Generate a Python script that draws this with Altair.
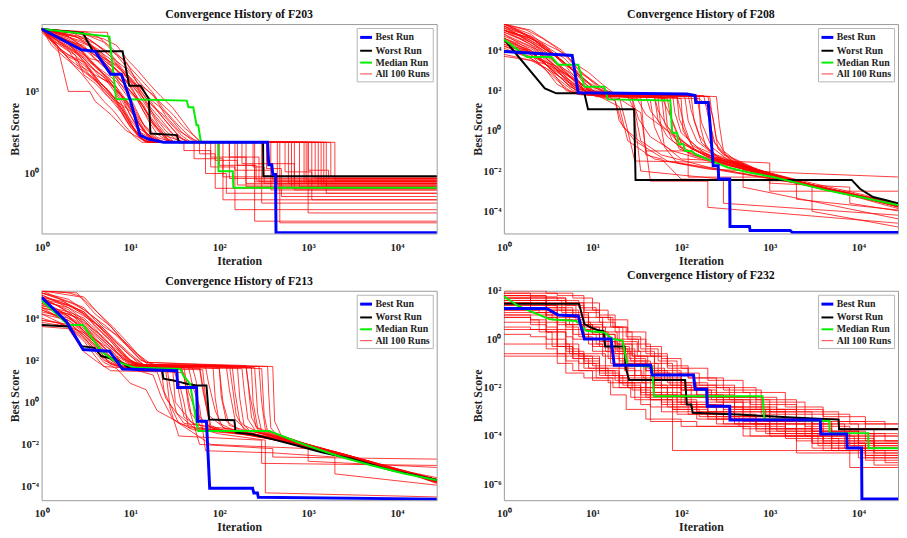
import altair as alt
import pandas as pd

ITER_MAX = 28000
SERIES = ["Best Run", "Worst Run", "Median Run", "All 100 Runs"]
COLORS = ["#0000ff", "#000000", "#00ee00", "#ff0000"]
WIDTHS = [3.0, 2.0, 2.0, 0.9]
OPACITY = [1.0, 1.0, 1.0, 0.85]
X_TICKS = [1, 10, 100, 1000, 10000]

# ---------------- F203 (iteration, log10 best score) ----------------
F203_BEST = [(1, 8.8), (2.8, 7.54), (4, 7.44), (6, 6.04), (7.9, 6.04), (10, 4.44), (12.8, 2.34), (16, 2.1),
             (23.7, 1.9), (350, 1.9), (360, 0.54), (390, 0.54), (400, -0.06), (430, -0.06), (435, -3.6), (30000, -3.6)]
F203_WORST = [(1, 8.8), (2.93, 8.54), (3.78, 7.44), (8.15, 7.44), (9.7, 5.34), (13, 5.34), (16.1, 4.54), (16.8, 2.44),
              (33.3, 2.34), (35.4, 1.9), (311, 1.9), (313, -0.16), (30000, -0.16)]
F203_MEDIAN = [(1, 8.8), (5.8, 8.34), (6.9, 4.54), (43, 4.44), (45, 4.04), (51, 4.04), (55.5, 2.94), (58, 2.94),
               (61.5, 2.04), (64, 1.9), (97, 1.9), (98, 0.14), (142, 0.14), (144, -0.86), (30000, -0.86)]
F203_RUNS = [
    [(1, 8.8), (2, 8.0), (3, 7.6), (5, 6.5), (7, 5.8), (10, 4.6), (14, 3.0), (20, 2.2), (30, 1.9), (150, 1.9), (150, 0.2), (400, 0.2), (400, -0.4), (30000, -0.4)],
    [(1, 8.75), (1.6, 7.6), (2, 7.2), (3, 6.8), (4, 6.0), (6, 5.5), (9, 4.0), (12, 2.8), (18, 2.2), (25, 1.9), (600, 1.9), (600, -0.6), (30000, -0.6)],
    [(1, 8.8), (1.5, 7.8), (2, 5.0), (3.5, 5.0), (4, 4.4), (6, 3.6), (9, 2.6), (15, 1.95), (80, 1.9), (80, 1.0), (200, 1.0), (200, -0.8), (30000, -0.8)],
    [(1, 8.8), (4, 8.6), (5.5, 8.6), (6, 7.5), (9, 6.8), (12, 5.5), (18, 4.8), (25, 3.5), (35, 2.6), (50, 2.1), (60, 1.9), (1200, 1.9), (1200, -0.3), (30000, -0.3)],
    [(1, 8.8), (2.5, 7.8), (3.5, 7.0), (5, 6.8), (7, 6.0), (10, 5.0), (14, 4.2), (18, 3.0), (25, 2.3), (40, 1.9), (300, 1.9), (300, -1.8), (30000, -1.8)],
    [(1, 8.7), (2, 7.9), (3, 7.0), (4, 6.3), (6, 5.5), (8, 4.7), (10, 3.5), (13, 2.5), (20, 1.95), (100, 1.9), (100, 0.5), (250, 0.5), (250, -2.9), (30000, -2.9)],
    [(1, 8.8), (3, 8.2), (4.5, 7.2), (6, 6.8), (9, 6.0), (12, 5.2), (16, 4.0), (22, 3.1), (30, 2.4), (45, 1.9), (900, 1.9), (900, -0.5), (30000, -0.5)],
    [(1, 8.8), (1.8, 8.2), (2.5, 7.3), (3.5, 6.5), (5, 5.9), (7, 4.8), (9, 3.7), (11, 2.7), (14, 2.0), (18, 1.9), (70, 1.9), (70, 0.0), (120, 0.0), (120, -1.2), (30000, -1.2)],
    [(1, 8.8), (3, 8.5), (5, 8.0), (7, 7.2), (10, 6.2), (14, 5.3), (20, 4.5), (30, 3.6), (40, 2.8), (55, 2.2), (62, 1.9), (1800, 1.9), (1800, -0.2), (30000, -0.2)],
    [(1, 8.8), (2, 7.5), (2.6, 6.6), (3.5, 6.2), (5, 5.0), (7, 4.2), (9, 3.2), (12, 2.3), (16, 1.9), (450, 1.9), (450, -0.7), (30000, -0.7)],
    [(1, 8.8), (2.2, 8.0), (3, 7.8), (4, 7.0), (6, 6.2), (8, 5.6), (11, 4.8), (14, 3.8), (19, 2.8), (26, 2.0), (30, 1.9), (180, 1.9), (180, 0.6), (700, 0.6), (700, -1.0), (30000, -1.0)],
    [(1, 8.6), (1.7, 7.5), (2.5, 6.9), (3.5, 6.0), (5, 5.3), (7, 4.4), (10, 3.8), (13, 2.9), (17, 2.2), (22, 1.9), (1000, 1.9), (1000, -2.4), (30000, -2.4)],
    [(1, 8.8), (2.8, 8.5), (4, 7.9), (6, 7.3), (8, 6.4), (11, 5.6), (15, 4.6), (20, 3.8), (28, 2.9), (36, 2.2), (45, 1.9), (130, 1.9), (130, -0.3), (30000, -0.3)],
    [(1, 8.8), (1.5, 8.1), (2.2, 7.4), (3, 6.7), (4.5, 5.6), (6, 4.9), (8, 4.1), (10, 3.0), (13, 2.1), (17, 1.9), (60, 1.9), (60, 1.2), (90, 1.2), (90, -0.9), (30000, -0.9)],
    [(1, 8.8), (2, 8.3), (3, 7.9), (4, 7.6), (5, 6.9), (7, 6.3), (10, 5.7), (13, 5.2), (17, 4.5), (23, 3.9), (30, 3.2), (38, 2.5), (50, 2.0), (55, 1.9), (250, 1.9), (250, -0.5), (30000, -0.5)],
    [(1, 8.75), (2, 7.7), (3, 7.1), (4, 6.5), (5.5, 5.8), (7, 5.0), (9, 4.3), (12, 3.4), (15, 2.5), (20, 1.9), (1500, 1.9), (1500, -0.6), (30000, -0.6)],
    [(1, 8.8), (1.9, 8.4), (2.9, 7.7), (4, 7.2), (5.5, 6.6), (7.5, 5.5), (10, 4.9), (13, 4.3), (16, 3.5), (21, 2.6), (27, 2.0), (33, 1.9), (340, 1.9), (340, 0.3), (500, 0.3), (500, -1.4), (30000, -1.4)],
    [(1, 8.8), (2.4, 7.9), (3.4, 7.5), (4.6, 6.9), (6.5, 6.1), (9, 5.3), (12, 4.5), (16, 3.2), (20, 2.4), (28, 1.9), (800, 1.9), (800, -0.8), (30000, -0.8)],
    [(1, 8.8), (1.4, 7.9), (2, 7.0), (2.8, 6.4), (4, 5.7), (5.5, 4.9), (7, 4.3), (9, 3.3), (12, 2.4), (15, 1.9), (40, 1.9), (40, 1.4), (80, 1.4), (80, 0.4), (150, 0.4), (150, -2.2), (30000, -2.2)],
    [(1, 8.8), (3.5, 8.4), (5, 8.2), (7, 7.8), (9, 7.0), (12, 6.3), (16, 5.5), (22, 4.7), (30, 4.0), (40, 3.1), (50, 2.4), (60, 1.95), (70, 1.9), (2000, 1.9), (2000, -0.4), (30000, -0.4)],
    [(1, 8.8), (2, 8.2), (2.6, 7.8), (3.5, 6.8), (5, 6.2), (7, 5.6), (9.5, 4.6), (12, 3.6), (15, 2.7), (19, 2.1), (24, 1.9), (200, 1.9), (200, -0.6), (30000, -0.6)],
    [(1, 8.8), (1.8, 8.5), (2.5, 8.0), (3.5, 7.4), (5, 6.9), (7, 6.3), (9, 5.6), (12, 4.6), (16, 3.6), (21, 2.8), (26, 2.1), (32, 1.9), (550, 1.9), (550, 0.1), (1100, 0.1), (1100, -1.6), (30000, -1.6)],
    [(1, 8.7), (2.1, 7.6), (3, 7.0), (4.5, 5.9), (6, 5.4), (8.5, 4.6), (11, 3.8), (14, 3.0), (18, 2.3), (23, 1.9), (110, 1.9), (110, -0.2), (30000, -0.2)],
    [(1, 8.8), (2.7, 8.1), (3.8, 7.7), (5, 7.0), (7, 6.6), (9, 5.9), (12, 5.1), (15, 4.4), (19, 3.4), (25, 2.6), (32, 2.1), (40, 1.9), (380, 1.9), (380, -1.0), (30000, -1.0)],
    [(1, 8.8), (1.6, 7.8), (2.4, 7.2), (3, 6.0), (4, 5.5), (6, 4.5), (8, 3.7), (10, 2.8), (13, 2.2), (16, 1.9), (90, 1.9), (90, 0.8), (160, 0.8), (160, -0.7), (30000, -0.7)],
    [(1, 8.8), (2.3, 8.4), (3.2, 8.0), (4.5, 7.5), (6, 6.7), (8, 6.0), (10, 5.4), (13, 4.8), (17, 4.0), (22, 3.3), (28, 2.6), (35, 2.0), (42, 1.9), (1300, 1.9), (1300, -0.9), (30000, -0.9)],
    [(1, 8.8), (1.3, 8.2), (1.8, 7.3), (2.3, 6.6), (3, 6.2), (4.5, 5.4), (6, 4.7), (8, 3.9), (10, 3.0), (13, 2.3), (17, 1.9), (480, 1.9), (480, -3.0), (30000, -3.0)],
    [(1, 8.8), (3, 8.3), (4, 7.6), (5.5, 7.1), (7.5, 6.5), (10, 5.8), (13, 5.0), (17, 4.2), (23, 3.6), (30, 2.9), (38, 2.3), (48, 1.9), (160, 1.9), (160, 0.5), (260, 0.5), (260, -0.4), (30000, -0.4)],
    [(1, 8.8), (1.5, 7.6), (2, 7.1), (2.7, 6.8), (3.6, 6.2), (5, 5.3), (7, 4.4), (9, 3.6), (12, 2.7), (16, 2.0), (20, 1.9), (700, 1.9), (700, -0.5), (30000, -0.5)],
    [(1, 8.8), (2, 8.1), (3, 7.3), (4, 6.6), (5, 6.0), (7, 5.1), (9, 4.4), (11, 3.5), (14, 2.6), (19, 2.0), (22, 1.9), (1600, 1.9), (1600, -1.2), (30000, -1.2)],
    [(1, 8.8), (1.7, 8.0), (2.3, 7.6), (3.2, 7.1), (4.2, 6.4), (5.8, 5.8), (7.6, 5.0), (9.8, 4.2), (12.5, 3.1), (15.5, 2.3), (19, 1.95), (26, 1.9), (1000, 1.9), (1000, 0.2), (1700, 0.2), (1700, -0.3), (30000, -0.3)],
    [(1, 8.8), (2.6, 8.6), (3.6, 8.1), (4.8, 7.6), (6.3, 7.0), (8.2, 6.2), (10.5, 5.4), (13.5, 4.5), (17, 3.7), (21, 2.9), (26, 2.3), (31, 1.9), (650, 1.9), (650, -0.9), (30000, -0.9)],
    [(1, 8.8), (1.4, 8.0), (1.9, 7.7), (2.6, 7.2), (3.3, 6.5), (4.3, 5.6), (5.6, 5.1), (7.2, 4.3), (9.2, 3.4), (11.5, 2.6), (14, 2.0), (17, 1.9), (240, 1.9), (240, 0.4), (320, 0.4), (320, -0.6), (30000, -0.6)],
    [(1, 8.8), (2.2, 8.6), (3, 8.2), (4, 7.9), (5.2, 7.4), (6.8, 6.9), (8.8, 6.4), (11, 5.8), (14, 5.0), (18, 4.2), (24, 3.3), (31, 2.6), (39, 2.1), (47, 1.9), (1400, 1.9), (1400, -0.7), (30000, -0.7)],
    [(1, 8.8), (1.6, 8.3), (2.1, 7.8), (2.9, 7.3), (3.9, 6.7), (5.1, 6.0), (6.7, 5.4), (8.6, 4.4), (11, 3.5), (14, 2.6), (18, 2.0), (21, 1.9), (130, 1.9), (130, 1.0), (280, 1.0), (280, -0.5), (30000, -0.5)],
    [(1, 8.8), (2.5, 8.3), (3.4, 7.8), (4.6, 7.3), (6.1, 6.6), (8, 5.9), (10.4, 5.2), (13.4, 4.2), (17, 3.3), (22, 2.5), (28, 2.0), (34, 1.9), (950, 1.9), (950, -0.4), (30000, -0.4)],
    [(1, 8.8), (1.3, 7.8), (1.7, 7.2), (2.2, 6.7), (2.9, 6.0), (3.8, 5.2), (5, 4.4), (6.5, 3.8), (8.4, 3.0), (10.8, 2.3), (13.5, 1.9), (52, 1.9), (52, 0.9), (110, 0.9), (110, -1.6), (30000, -1.6)],
    [(1, 8.8), (3.2, 8.6), (4.4, 8.3), (6, 7.7), (8, 7.0), (10.5, 6.3), (13.8, 5.6), (18, 4.9), (23, 4.0), (30, 3.3), (38, 2.7), (48, 2.2), (57, 1.9), (1100, 1.9), (1100, -0.2), (30000, -0.2)],
]

# ---------------- F208 ----------------
F208_BEST = [(1, 3.94), (5.9, 3.74), (6.9, 1.89), (116, 1.83), (144, 1.75), (146, 1.4), (202, 1.4), (210, 0.55), (230, -1.74),
             (262, -1.74), (265, -2.39), (353, -2.39), (356, -4.75), (590, -4.75), (600, -4.95), (1700, -4.95), (1800, -5.05), (30000, -5.05)]
F208_WORST = [(1, 4.55), (2.9, 2.1), (3.9, 1.86), (8.1, 1.86), (8.9, 1.07), (29.5, 1.07), (30.6, -2.44), (8400, -2.44),
              (10400, -2.88), (14650, -3.29), (20650, -3.45), (30000, -3.65)]
F208_MEDIAN = [(1, 4.55), (1.47, 3.98), (1.82, 3.66), (3.46, 3.66), (4.1, 3.28), (6.9, 3.28), (8.1, 2.19), (13.6, 2.19), (14.9, 1.56),
               (75.5, 1.5), (79, -0.1), (90, -0.1), (93.5, -0.67), (106, -0.67), (111, -1.0), (132, -1.0), (144, -1.16), (240, -1.57),
               (338, -1.82), (565, -2.06), (1122, -2.31), (1876, -2.55), (4416, -2.96), (10420, -3.29), (30000, -3.72)]
F208_RUNS = [
    [(1, 5.0), (2, 4.3), (3, 3.6), (5, 2.8), (8, 2.1), (12, 1.8), (60, 1.7), (80, 0.5), (100, -0.6), (200, -1.3), (500, -1.9), (2000, -2.6), (8000, -3.2), (30000, -3.75)],
    [(1, 4.6), (1.5, 4.2), (2.5, 3.8), (4, 3.0), (6, 2.2), (9, 1.9), (30, 1.8), (40, 0.8), (70, 0.0), (150, -1.0), (400, -1.7), (1500, -2.4), (6000, -3.0), (30000, -3.8)],
    [(1, 5.3), (2, 4.8), (3, 4.2), (4.5, 3.4), (7, 2.8), (10, 2.2), (15, 1.8), (150, 1.7), (170, 0.4), (220, -0.8), (350, -1.5), (1000, -2.2), (4000, -2.9), (30000, -3.7)],
    [(1, 4.2), (2, 3.9), (3, 3.4), (5, 2.6), (7, 1.9), (12, 1.7), (20, 1.2), (25, -0.5), (50, -1.4), (200, -1.9), (2000, -2.1), (30000, -2.3)],
    [(1, 5.1), (1.8, 4.6), (3, 4.0), (4, 3.7), (6, 3.0), (9, 2.4), (14, 1.9), (25, 1.75), (90, 1.7), (110, 0.2), (130, -0.7), (250, -1.4), (700, -2.0), (3000, -2.7), (12000, -3.3), (30000, -3.7)],
    [(1, 4.8), (2, 4.0), (3, 3.3), (4, 2.6), (6, 2.0), (8, 1.8), (40, 1.75), (45, 1.0), (60, 0.3), (90, -0.5), (200, -1.3), (800, -2.0), (3000, -2.6), (12000, -3.2), (30000, -3.8)],
    [(1, 3.8), (2, 3.5), (3, 3.1), (5, 2.5), (8, 2.0), (11, 1.7), (20, 1.6), (35, 0.9), (40, -1.0), (120, -1.0), (120, -2.3), (1000, -2.3), (1000, -3.0), (30000, -3.0)],
    [(1, 5.2), (2, 4.7), (3, 4.3), (5, 3.8), (7, 3.0), (10, 2.5), (14, 2.0), (20, 1.8), (200, 1.7), (230, 0.6), (260, -0.9), (400, -1.6), (1200, -2.3), (5000, -3.0), (30000, -3.75)],
    [(1, 4.4), (1.7, 4.0), (2.5, 3.5), (4, 2.9), (6, 2.4), (9, 1.9), (15, 1.8), (70, 1.6), (75, 0.8), (90, -0.2), (130, -0.9), (300, -1.6), (1000, -2.2), (4000, -2.85), (15000, -3.4), (30000, -3.8)],
    [(1, 5.0), (2, 4.5), (4, 3.7), (6, 3.0), (8, 2.0), (12, 1.8), (28, 1.75), (30, 0.5), (35, -2.0), (100, -2.2), (300, -2.4), (300, -3.6), (30000, -4.2)],
    [(1, 4.0), (2, 3.7), (3, 3.4), (4, 3.2), (6, 2.6), (8, 2.0), (10, 1.8), (50, 1.7), (55, 1.0), (70, 0.2), (100, -0.5), (180, -1.2), (500, -1.8), (2000, -2.5), (10000, -3.2), (30000, -3.65)],
    [(1, 5.3), (2, 5.0), (3, 4.5), (4.5, 4.0), (6, 3.4), (9, 2.9), (13, 2.3), (17, 1.9), (120, 1.8), (130, 1.0), (160, -0.2), (220, -1.1), (500, -1.7), (1500, -2.4), (6000, -3.0), (30000, -3.8)],
    [(1, 4.5), (2, 3.9), (3, 3.3), (5, 2.4), (7, 1.9), (14, 1.8), (18, 1.5), (22, 0.2), (40, -0.8), (45, -2.5), (200, -2.5), (200, -3.8), (30000, -4.6)],
    [(1, 4.9), (2, 4.4), (3, 3.9), (4, 3.3), (6, 2.6), (9, 2.1), (13, 1.8), (30, 1.75), (100, 1.6), (105, 0.0), (140, -0.9), (300, -1.5), (900, -2.1), (3000, -2.7), (12000, -3.3), (30000, -3.75)],
    [(1, 4.7), (1.5, 4.4), (2.5, 4.0), (3.5, 3.5), (5, 2.9), (7, 2.2), (10, 1.9), (15, 1.7), (160, 1.6), (200, 1.2), (230, -0.5), (300, -1.2), (700, -1.9), (2500, -2.6), (10000, -3.2), (30000, -3.7)],
    [(1, 5.2), (2, 4.4), (3, 3.8), (5, 3.0), (7, 2.4), (10, 1.9), (20, 1.7), (45, 1.5), (50, 0.2), (60, -0.6), (100, -1.4), (1000, -1.6), (1000, -2.6), (8000, -2.8), (8000, -3.6), (30000, -4.0)],
    [(1, 4.3), (2, 3.8), (3, 3.0), (4, 2.3), (6, 1.9), (10, 1.75), (25, 1.7), (30, 1.0), (35, -0.5), (60, -1.2), (200, -1.8), (600, -2.2), (2000, -2.6), (8000, -3.2), (30000, -3.9)],
    [(1, 5.0), (1.5, 4.7), (2.2, 4.3), (3, 3.9), (4, 3.3), (6, 2.8), (8, 2.2), (11, 1.9), (80, 1.8), (85, 0.9), (100, -0.1), (150, -0.8), (300, -1.4), (1000, -2.1), (5000, -2.95), (30000, -3.7)],
    [(1, 4.6), (2, 4.1), (3, 3.6), (4, 3.0), (5, 2.5), (7, 2.0), (9, 1.8), (20, 1.7), (25, 0.0), (30, -1.5), (500, -1.6), (500, -2.8), (30000, -4.4)],
    [(1, 5.3), (1.6, 4.9), (2.5, 4.4), (3.5, 3.9), (5, 3.3), (7, 2.7), (10, 2.2), (14, 1.9), (40, 1.8), (250, 1.7), (270, 0.3), (300, -1.0), (450, -1.6), (1500, -2.4), (6000, -3.0), (30000, -3.75)],
    [(1, 4.1), (2, 3.6), (3, 3.1), (4, 2.6), (5, 2.0), (7, 1.8), (15, 1.7), (90, 1.65), (95, 0.6), (120, -0.4), (180, -1.1), (500, -1.8), (2000, -2.5), (9000, -3.2), (30000, -3.8)],
    [(1, 4.8), (2, 4.2), (3, 3.6), (4, 3.1), (6, 2.6), (8, 2.0), (12, 1.8), (35, 1.7), (40, -1.2), (60, -1.4), (100, -2.4), (2000, -2.5), (2000, -3.4), (30000, -3.95)],
    [(1, 5.1), (2, 4.7), (3, 4.0), (4.5, 3.5), (6, 3.0), (8, 2.6), (11, 2.0), (16, 1.8), (60, 1.75), (65, 0.4), (80, -0.5), (130, -1.2), (400, -1.8), (1500, -2.4), (6000, -3.0), (20000, -3.5), (30000, -3.65)],
    [(1, 4.5), (2, 4.0), (2.5, 3.6), (3.5, 3.0), (5, 2.4), (7, 1.9), (12, 1.8), (130, 1.7), (140, 0.5), (170, -0.6), (260, -1.3), (700, -1.9), (2500, -2.6), (10000, -3.25), (30000, -3.75)],
    [(1, 3.7), (2, 3.5), (3, 3.3), (5, 2.8), (8, 2.2), (12, 1.7), (18, 1.5), (20, 0.5), (30, -0.5), (70, -1.5), (350, -2.0), (3000, -2.7), (3000, -4.0), (30000, -4.8)],
    [(1, 5.0), (2, 4.6), (3, 4.1), (4, 3.6), (6, 3.1), (9, 2.6), (13, 2.1), (18, 1.8), (50, 1.7), (55, 0.5), (70, -0.3), (110, -1.0), (300, -1.6), (1000, -2.3), (4000, -2.9), (15000, -3.4), (30000, -3.85)],
    [(1, 5.3), (1.4, 5.0), (2, 4.6), (2.8, 4.2), (3.8, 3.7), (5, 3.2), (6.5, 2.6), (8.5, 2.1), (11, 1.85), (180, 1.75), (200, 0.8), (240, -0.6), (350, -1.4), (1000, -2.2), (3500, -2.8), (12000, -3.3), (30000, -3.7)],
    [(1, 4.9), (1.6, 4.5), (2.4, 4.1), (3.3, 3.5), (4.5, 2.9), (6, 2.3), (8, 1.9), (22, 1.8), (110, 1.7), (120, 0.5), (150, -0.5), (250, -1.3), (700, -1.95), (2500, -2.6), (9000, -3.2), (30000, -3.75)],
    [(1, 4.3), (1.8, 4.0), (2.6, 3.6), (3.6, 3.2), (5, 2.7), (7, 2.1), (10, 1.85), (40, 1.7), (65, 1.6), (70, 0.2), (100, -0.8), (200, -1.4), (600, -2.0), (2000, -2.55), (8000, -3.15), (30000, -3.8)],
    [(1, 5.2), (1.5, 4.9), (2.2, 4.5), (3, 4.0), (4.2, 3.6), (5.8, 3.1), (7.5, 2.5), (10, 2.0), (14, 1.85), (60, 1.8), (210, 1.7), (220, 1.0), (250, -0.4), (320, -1.2), (800, -2.0), (3000, -2.7), (10000, -3.25), (30000, -3.7)],
    [(1, 4.6), (1.4, 4.3), (2, 3.9), (2.8, 3.4), (4, 2.8), (5.5, 2.2), (7.5, 1.9), (18, 1.8), (28, 1.6), (33, 0.6), (45, -0.3), (80, -1.0), (200, -1.5), (800, -2.1), (3000, -2.7), (12000, -3.3), (30000, -3.75)],
    [(1, 5.0), (1.7, 4.7), (2.5, 4.4), (3.5, 4.0), (4.8, 3.6), (6.5, 3.0), (8.5, 2.3), (11, 1.9), (15, 1.8), (100, 1.75), (160, 1.7), (165, 0.2), (190, -0.8), (300, -1.5), (900, -2.15), (3000, -2.75), (10000, -3.3), (30000, -3.8)],
    [(1, 4.2), (1.5, 3.9), (2.2, 3.5), (3, 3.0), (4, 2.5), (5.5, 2.0), (7.5, 1.8), (16, 1.7), (55, 1.65), (58, 0.5), (65, -0.8), (90, -1.6), (300, -2.0), (1500, -2.5), (6000, -3.0), (30000, -3.6)],
    [(1, 5.3), (1.8, 5.0), (2.7, 4.6), (3.7, 4.2), (5, 3.7), (6.8, 3.1), (9, 2.6), (12, 2.1), (16, 1.85), (75, 1.75), (80, 0.0), (95, -0.9), (160, -1.3), (500, -1.85), (2000, -2.5), (8000, -3.1), (30000, -3.7)],
]

# ---------------- F213 ----------------
F213_BEST = [(1, 4.99), (1.91, 3.83), (2.93, 2.51), (5.8, 2.43), (8.15, 1.58), (33.3, 1.5), (34, 0.7), (55.5, 0.7), (57, -0.9),
             (71.7, -0.9), (78, -4.08), (237, -4.08), (245, -4.31), (269, -4.31), (275, -4.51), (30000, -4.6)]
F213_WORST = [(1, 3.67), (2, 3.6), (2.81, 2.67), (3.95, 2.59), (4.69, 2.2), (6.6, 2.05), (8.5, 1.81), (10, 1.58), (22.7, 1.58),
              (23.5, 1.12), (30.6, 1.04), (36.3, 0.96), (43, 0.88), (55.5, 0.8), (71.7, 0.8), (76.9, -0.82), (148, -0.85),
              (152, -1.36), (154, -1.44), (237, -1.52), (395, -1.75), (659, -1.99), (1420, -2.37), (3060, -2.68), (8510, -3.22), (30000, -3.72)]
F213_MEDIAN = [(1, 4.84), (2, 3.67), (2.93, 3.67), (4.69, 2.43), (6.6, 1.97), (11, 1.66), (36.3, 1.58), (39.5, 1.27), (47, 0.88),
               (54.6, -0.82), (58, -1.36), (363, -1.36), (510, -1.6), (782, -1.91), (1420, -2.29), (2367, -2.6), (5100, -2.99),
               (11970, -3.38), (30000, -3.72)]
F213_RUNS = [
    [(1, 5.0), (2, 4.3), (3, 3.6), (4, 3.0), (6, 2.3), (9, 1.8), (15, 1.7), (40, 1.65), (45, 0.5), (55, -0.5), (80, -1.2), (200, -1.5), (800, -2.0), (3000, -2.6), (10000, -3.2), (30000, -3.75)],
    [(1, 4.6), (1.5, 4.4), (2.5, 4.0), (3.5, 3.4), (5, 2.8), (7, 2.2), (10, 1.8), (100, 1.6), (110, 0.0), (130, -1.1), (300, -1.6), (1000, -2.1), (4000, -2.8), (15000, -3.4), (30000, -3.8)],
    [(1, 5.3), (2, 5.2), (3, 5.0), (4, 4.4), (6, 3.6), (8, 3.0), (11, 2.4), (15, 1.9), (200, 1.7), (220, 0.4), (260, -1.2), (500, -1.8), (2000, -2.5), (8000, -3.1), (30000, -3.7)],
    [(1, 3.6), (2, 3.5), (3, 2.4), (4, 2.0), (6, 1.5), (20, 1.45), (25, 0.2), (40, -1.0), (150, -1.3), (600, -1.9), (2500, -2.5), (10000, -3.2), (30000, -3.85)],
    [(1, 4.8), (2, 4.0), (3, 3.5), (5, 2.5), (7, 1.9), (12, 1.7), (60, 1.6), (65, 0.6), (75, -0.6), (120, -1.3), (400, -1.7), (1500, -2.3), (6000, -3.0), (30000, -3.8)],
    [(1, 5.2), (2, 4.8), (3, 4.5), (4, 3.9), (5, 3.5), (7, 2.9), (10, 2.3), (14, 1.8), (25, 1.75), (300, 1.6), (320, -0.6), (350, -1.4), (800, -1.9), (3000, -2.6), (12000, -3.3), (30000, -3.7)],
    [(1, 4.2), (2, 3.6), (3, 2.9), (4, 2.2), (5, 1.7), (12, 1.6), (25, 1.5), (28, -0.3), (35, -1.6), (300, -1.8), (300, -2.9), (30000, -3.0)],
    [(1, 4.5), (2, 4.2), (3, 3.9), (4, 3.3), (6, 2.6), (9, 2.0), (13, 1.75), (70, 1.7), (75, 1.0), (90, -0.4), (110, -1.2), (300, -1.6), (1000, -2.15), (4000, -2.8), (15000, -3.4), (30000, -3.75)],
    [(1, 5.1), (2, 4.6), (3, 4.2), (5, 3.4), (7, 2.7), (10, 2.0), (14, 1.75), (160, 1.7), (170, 0.2), (190, -1.1), (400, -1.7), (1500, -2.3), (6000, -3.0), (20000, -3.5), (30000, -3.8)],
    [(1, 3.9), (2, 3.7), (3, 3.2), (4, 2.6), (5, 2.0), (8, 1.6), (15, 1.5), (40, 1.4), (45, -0.2), (60, -2.0), (400, -2.2), (400, -2.6), (30000, -2.7)],
    [(1, 4.7), (2, 4.1), (3, 3.4), (4.5, 2.8), (6, 2.3), (8, 1.85), (12, 1.7), (50, 1.65), (55, 1.0), (60, -0.8), (90, -1.3), (300, -1.65), (1200, -2.2), (5000, -2.9), (20000, -3.5), (30000, -3.7)],
    [(1, 5.3), (2.5, 5.2), (3, 4.8), (4, 4.2), (6, 3.6), (8, 3.0), (10, 2.5), (13, 2.0), (18, 1.8), (120, 1.7), (130, 0.6), (150, -0.8), (200, -1.3), (700, -1.85), (3000, -2.6), (12000, -3.25), (30000, -3.75)],
    [(1, 4.4), (2, 3.9), (3, 3.4), (4, 2.8), (5, 2.3), (7, 1.8), (11, 1.65), (33, 1.6), (35, 0.5), (40, -0.7), (60, -1.2), (200, -1.5), (900, -2.1), (3500, -2.7), (12000, -3.3), (30000, -3.9)],
    [(1, 5.0), (1.8, 4.7), (3, 4.3), (4, 3.8), (6, 3.1), (9, 2.4), (12, 1.9), (16, 1.7), (250, 1.65), (270, -0.5), (300, -1.4), (1000, -2.0), (4000, -2.7), (15000, -3.35), (30000, -3.7)],
    [(1, 4.0), (2, 3.6), (3, 3.0), (4, 2.4), (5, 1.9), (7, 1.6), (10, 0.9), (15, 0.6), (20, -0.4), (50, -1.3), (150, -1.45), (500, -1.8), (2000, -2.4), (8000, -3.1), (30000, -3.85)],
    [(1, 4.9), (2, 4.4), (3, 3.8), (5, 3.1), (7, 2.4), (10, 1.9), (13, 1.75), (85, 1.7), (90, 0.2), (100, -1.0), (150, -1.35), (500, -1.75), (2000, -2.4), (8000, -3.1), (30000, -3.7)],
    [(1, 4.6), (2, 4.3), (3, 4.0), (4, 3.5), (5, 3.0), (7, 2.5), (9, 2.1), (12, 1.8), (45, 1.7), (50, 0.8), (60, -0.2), (70, -2.3), (400, -2.4), (2000, -2.6), (2000, -3.4), (30000, -3.95)],
    [(1, 5.2), (2, 4.9), (3, 4.4), (4, 4.0), (5, 3.6), (7, 3.2), (9, 2.8), (12, 2.3), (16, 1.9), (20, 1.75), (280, 1.7), (300, 0.0), (330, -1.3), (900, -1.95), (3000, -2.55), (10000, -3.2), (30000, -3.7)],
    [(1, 3.8), (2, 3.6), (3, 3.3), (4, 2.9), (6, 2.0), (9, 1.6), (20, 1.55), (30, 1.5), (32, 0.0), (50, -1.0), (100, -1.3), (400, -1.7), (1500, -2.3), (6000, -3.0), (30000, -3.8)],
    [(1, 4.8), (2, 4.5), (3, 4.1), (5, 3.5), (7, 2.8), (10, 2.2), (14, 1.8), (200, 1.75), (210, 1.0), (230, -0.7), (280, -1.4), (700, -1.85), (2500, -2.5), (10000, -3.2), (30000, -3.8)],
    [(1, 5.1), (2, 4.5), (3, 3.9), (4, 3.4), (6, 2.7), (8, 2.1), (11, 1.8), (60, 1.7), (70, 0.0), (80, -1.35), (200, -1.5), (800, -2.0), (3000, -2.6), (10000, -3.2), (30000, -3.6)],
    [(1, 4.3), (2, 4.0), (3, 3.6), (4, 3.0), (6, 2.5), (8, 1.9), (12, 1.7), (22, 1.65), (24, 0.5), (35, -1.0), (100, -1.5), (330, -1.8), (330, -4.3), (30000, -4.5)],
    [(1, 4.9), (2, 4.6), (3, 4.3), (4, 3.6), (6, 2.9), (8, 2.3), (11, 1.9), (15, 1.75), (140, 1.7), (150, 0.5), (170, -0.9), (220, -1.35), (600, -1.8), (2000, -2.45), (8000, -3.1), (30000, -3.7)],
    [(1, 4.5), (2, 3.8), (3, 3.2), (4, 2.7), (5, 2.2), (6, 1.8), (10, 1.6), (18, 1.3), (22, 0.3), (30, -0.8), (80, -2.0), (1000, -2.2), (1000, -2.8), (30000, -3.1)],
    [(1, 5.3), (2, 5.1), (2.8, 5.0), (3.5, 4.6), (5, 4.0), (7, 3.4), (9, 2.9), (12, 2.3), (15, 1.9), (400, 1.7), (420, -0.9), (500, -1.6), (1200, -2.1), (5000, -2.8), (15000, -3.4), (30000, -3.75)],
    [(1, 4.2), (2, 3.9), (3, 3.3), (4, 2.7), (6, 2.1), (8, 1.7), (14, 1.6), (30, 1.55), (35, 1.0), (40, 0.0), (45, -1.2), (150, -1.4), (600, -1.85), (2500, -2.5), (9000, -3.15), (30000, -3.8)],
    [(1, 5.3), (1.5, 5.0), (2.1, 4.6), (2.9, 4.2), (3.9, 3.7), (5.2, 3.2), (7, 2.6), (9.5, 2.0), (12.5, 1.8), (90, 1.7), (100, 1.65), (105, 0.3), (120, -0.9), (180, -1.4), (600, -1.8), (2500, -2.45), (10000, -3.2), (30000, -3.75)],
    [(1, 4.7), (1.4, 4.5), (2, 4.1), (2.8, 3.5), (3.8, 2.9), (5, 2.4), (6.8, 2.0), (9, 1.75), (30, 1.65), (180, 1.6), (190, 0.6), (210, -0.8), (260, -1.4), (800, -1.9), (3000, -2.55), (12000, -3.25), (30000, -3.7)],
    [(1, 5.0), (1.7, 4.8), (2.4, 4.5), (3.3, 4.1), (4.4, 3.6), (6, 3.0), (8, 2.4), (10.5, 1.9), (14, 1.75), (60, 1.7), (230, 1.65), (240, 0.0), (270, -1.2), (500, -1.7), (1500, -2.25), (5000, -2.9), (15000, -3.45), (30000, -3.8)],
    [(1, 4.4), (1.6, 4.0), (2.3, 3.6), (3.1, 3.0), (4.2, 2.4), (5.6, 1.9), (7.5, 1.7), (14, 1.6), (26, 1.55), (28, 0.7), (33, -0.5), (55, -1.3), (200, -1.55), (700, -1.95), (2500, -2.5), (9000, -3.15), (30000, -3.8)],
    [(1, 5.2), (1.6, 4.9), (2.2, 4.7), (3, 4.4), (4, 4.0), (5.4, 3.6), (7.2, 3.1), (9.6, 2.6), (12.5, 2.1), (16, 1.8), (130, 1.75), (140, 0.8), (155, -0.6), (190, -1.3), (600, -1.8), (2200, -2.45), (8000, -3.1), (30000, -3.75)],
    [(1, 3.9), (1.5, 3.8), (2.2, 3.5), (3, 3.1), (4, 2.5), (5.5, 2.0), (7.5, 1.7), (15, 1.6), (65, 1.55), (70, 0.2), (80, -1.1), (120, -1.4), (400, -1.75), (1500, -2.3), (6000, -3.0), (30000, -3.75)],
    [(1, 4.9), (1.5, 4.6), (2.1, 4.2), (2.9, 3.8), (3.9, 3.3), (5.3, 2.8), (7.1, 2.3), (9.4, 1.9), (12, 1.75), (350, 1.7), (360, 0.4), (380, -1.2), (450, -1.6), (1200, -2.1), (4000, -2.75), (14000, -3.35), (30000, -3.7)],
    [(1, 4.5), (1.8, 4.2), (2.6, 3.8), (3.6, 3.3), (4.8, 2.7), (6.5, 2.2), (8.7, 1.8), (13, 1.7), (38, 1.6), (42, 0.8), (48, -0.5), (65, -1.25), (160, -1.45), (600, -1.85), (2500, -2.5), (9000, -3.15), (30000, -3.85)],
]

# ---------------- F232 ----------------
F232_BEST = [(1, 1.27), (3.04, 1.27), (4.1, 1.0), (6.9, 0.96), (8.1, 0.01), (16.2, 0.01), (17.6, -1.08), (45.2, -1.08), (47, -1.48),
             (138, -1.48), (144, -2.07), (194, -2.07), (197, -2.77), (353, -2.77), (356, -3.34), (3724, -3.34), (3760, -3.92),
             (7400, -3.92), (7470, -4.49), (10860, -4.49), (10960, -6.6), (30000, -6.6)]
F232_WORST = [(1, 1.46), (7.05, 1.46), (8.1, 0.62), (9.7, 0.48), (11.9, 0.35), (13.3, 0.35), (13.9, -0.3), (23, -0.3), (23.8, -1.21),
              (25.9, -1.69), (111, -1.69), (116, -2.7), (130, -2.7), (135, -3.04), (437, -3.11), (1581, -3.22), (5970, -3.32),
              (6050, -3.72), (30000, -3.72)]
F232_MEDIAN = [(1, 1.77), (1.47, 1.36), (3.3, 0.82), (6.6, 0.75), (8.5, 0.35), (13.6, 0.28), (16.9, 0.01), (21.8, -0.06),
               (24.8, -1.08), (47, -1.14), (49.4, -2.36), (830, -2.36), (869, -3.31), (4700, -3.38), (4760, -3.88),
               (12880, -3.88), (13000, -4.5), (30000, -4.5)]
F232_RUNS = [
    [(1, 1.6), (3, 1.5), (5, 1.2), (7, 0.6), (10, 0.2), (15, -0.4), (25, -1.0), (40, -1.5), (80, -2.0), (150, -2.4), (400, -2.9), (1000, -3.3), (3000, -3.8), (10000, -4.2), (30000, -4.5)],
    [(1, 1.2), (2, 1.1), (3, 0.5), (4, -0.3), (6, -0.8), (12, -1.2), (20, -1.8), (35, -2.2), (60, -2.6), (150, -3.0), (500, -3.4), (2000, -3.9), (8000, -4.4), (30000, -4.8)],
    [(1, 1.9), (4, 1.8), (8, 1.5), (12, 1.0), (18, 0.5), (25, 0.0), (40, -0.6), (70, -1.1), (120, -1.6), (300, -2.1), (800, -2.6), (2500, -3.1), (8000, -3.5), (30000, -3.8)],
    [(1, -0.7), (10, -0.7), (12, -1.3), (20, -1.6), (40, -2.0), (90, -2.6), (200, -3.0), (600, -3.5), (2000, -4.0), (7000, -4.5), (30000, -5.0)],
    [(1, 1.0), (2, 0.8), (3, 0.4), (4, -0.6), (5, -1.4), (8, -1.6), (15, -1.8), (30, -2.5), (60, -3.0), (150, -3.3), (500, -3.7), (2000, -4.2), (10000, -4.9), (30000, -5.3)],
    [(1, 1.5), (2, 1.4), (4, 1.3), (6, 1.0), (9, 0.6), (13, 0.2), (18, -0.2), (28, -0.7), (50, -1.4), (100, -1.9), (250, -2.4), (700, -2.9), (2000, -3.3), (6000, -3.7), (30000, -4.2)],
    [(1, 1.8), (3, 1.7), (5, 1.4), (8, 0.9), (13, 0.5), (20, -0.1), (32, -0.7), (60, -1.3), (100, -1.8), (200, -2.2), (600, -2.7), (2000, -3.3), (6000, -3.7), (15000, -4.0), (30000, -4.3)],
    [(1, 0.5), (2, 0.4), (3, 0.0), (5, -0.5), (8, -0.9), (12, -1.4), (20, -2.0), (35, -2.7), (45, -3.4), (150, -3.6), (600, -4.0), (3000, -4.5), (12000, -5.0), (30000, -5.3)],
    [(1, 1.3), (2, 1.2), (3, 1.0), (5, 0.8), (8, 0.4), (12, -0.1), (18, -0.6), (30, -1.1), (50, -1.6), (100, -2.1), (250, -2.6), (800, -3.1), (2500, -3.6), (8000, -4.0), (30000, -4.4)],
    [(1, 1.7), (2, 1.6), (3, 1.3), (5, 1.0), (7, 0.6), (10, 0.3), (15, 0.0), (22, -0.5), (35, -1.0), (55, -1.5), (90, -2.0), (200, -2.6), (500, -3.0), (1500, -3.5), (5000, -4.0), (15000, -4.4), (30000, -4.7)],
    [(1, 1.1), (3, 1.0), (4, 0.3), (5, -0.4), (7, -1.0), (11, -1.3), (17, -1.5), (25, -2.0), (40, -2.4), (70, -2.8), (200, -3.2), (700, -3.7), (3000, -4.3), (12000, -4.8), (30000, -5.1)],
    [(1, 2.0), (3, 1.9), (6, 1.7), (10, 1.2), (15, 0.8), (25, 0.3), (40, -0.3), (60, -0.8), (100, -1.2), (200, -1.7), (500, -2.2), (1500, -2.8), (4000, -3.2), (12000, -3.5), (30000, -3.7)],
    [(1, 0.9), (2, 0.7), (4, 0.4), (6, 0.0), (10, -0.5), (16, -1.0), (25, -1.5), (40, -2.0), (70, -2.4), (130, -2.8), (400, -3.3), (1200, -3.8), (4000, -4.3), (15000, -4.7), (30000, -4.9)],
    [(1, 1.4), (2, 1.3), (3, 1.1), (4, 0.8), (6, 0.4), (9, 0.0), (14, -0.5), (22, -1.0), (35, -1.5), (50, -1.9), (70, -2.5), (80, -4.6), (2000, -4.7), (30000, -4.9)],
    [(1, -0.6), (12, -0.6), (14, -1.1), (25, -1.5), (50, -1.9), (100, -2.3), (300, -2.8), (1000, -3.3), (3000, -3.8), (10000, -4.3), (30000, -4.7)],
    [(1, 1.6), (2, 1.5), (3, 1.2), (4, 0.7), (5, 0.1), (6, -0.6), (8, -1.2), (12, -1.5), (20, -1.8), (40, -2.3), (90, -2.8), (250, -3.3), (1000, -3.9), (5000, -4.6), (20000, -5.1), (30000, -5.2)],
    [(1, 1.8), (2, 1.75), (4, 1.6), (7, 1.3), (11, 0.9), (16, 0.5), (22, 0.0), (33, -0.5), (50, -1.0), (80, -1.5), (140, -2.0), (350, -2.5), (1000, -3.0), (3000, -3.5), (10000, -3.9), (30000, -4.1)],
    [(1, 0.2), (2, 0.1), (3, -0.4), (4, -1.0), (6, -1.3), (10, -1.7), (16, -2.3), (24, -2.9), (40, -3.3), (100, -3.6), (500, -4.0), (2000, -4.6), (8000, -5.3), (30000, -5.8)],
    [(1, 1.5), (2, 1.3), (3, 1.2), (5, 0.9), (8, 0.5), (12, 0.2), (18, -0.3), (26, -0.8), (40, -1.3), (70, -1.8), (150, -2.3), (400, -2.8), (1200, -3.3), (4000, -3.8), (12000, -4.2), (30000, -4.5)],
    [(1, 1.0), (3, 0.9), (5, 0.6), (8, 0.2), (12, -0.3), (20, -0.9), (30, -1.5), (45, -2.0), (80, -2.5), (150, -3.0), (400, -3.5), (1500, -4.0), (5000, -4.5), (30000, -5.0)],
    [(1, 1.7), (3, 1.6), (5, 1.5), (8, 1.1), (12, 0.7), (18, 0.3), (28, -0.2), (45, -0.7), (70, -1.2), (120, -1.6), (250, -2.0), (700, -2.5), (2000, -3.0), (6000, -3.4), (20000, -3.7), (30000, -3.8)],
    [(1, -0.2), (4, -0.3), (6, -0.8), (9, -1.2), (15, -1.6), (25, -2.0), (45, -2.5), (80, -2.9), (200, -3.3), (700, -3.8), (3000, -4.3), (12000, -4.8), (30000, -5.1)],
    [(1, 1.3), (2, 1.1), (3, 0.9), (4, 0.6), (6, 0.2), (9, -0.2), (13, -0.7), (20, -1.2), (30, -1.7), (50, -2.2), (100, -2.7), (300, -3.2), (1000, -3.7), (4000, -4.2), (15000, -4.6), (30000, -4.8)],
    [(1, 1.9), (2, 1.8), (3, 1.7), (5, 1.5), (8, 1.2), (12, 0.9), (17, 0.5), (24, 0.1), (35, -0.4), (55, -0.9), (90, -1.4), (160, -1.9), (400, -2.4), (1200, -2.9), (4000, -3.4), (12000, -3.7), (30000, -3.9)],
    [(1, 0.7), (2, 0.6), (3, 0.3), (5, -0.2), (7, -0.7), (10, -1.1), (14, -1.5), (22, -1.9), (35, -2.3), (60, -2.7), (120, -3.1), (300, -3.5), (1000, -4.0), (4000, -4.6), (15000, -5.2), (30000, -5.5)],
    [(1, 1.4), (2, 1.4), (4, 1.2), (6, 0.9), (9, 0.5), (14, 0.0), (20, -0.4), (30, -0.9), (45, -1.4), (75, -1.9), (130, -2.4), (300, -2.9), (900, -3.4), (3000, -3.9), (10000, -4.3), (30000, -4.5)],
    [(1, 1.7), (2, 1.6), (3, 1.4), (4.5, 1.1), (6.5, 0.7), (9.5, 0.3), (13, -0.1), (19, -0.5), (27, -0.9), (40, -1.3), (60, -1.7), (100, -2.1), (200, -2.5), (500, -2.9), (1500, -3.4), (5000, -3.9), (15000, -4.3), (30000, -4.6)],
    [(1, 0.4), (3, 0.3), (4, -0.2), (5.5, -0.6), (8, -1.0), (12, -1.3), (18, -1.7), (28, -2.1), (45, -2.5), (80, -2.9), (160, -3.2), (450, -3.6), (1500, -4.1), (6000, -4.6), (30000, -5.2)],
    [(1, 1.2), (2.5, 1.1), (3.5, 0.8), (5, 0.5), (7, 0.1), (10, -0.3), (15, -0.8), (23, -1.3), (36, -1.8), (60, -2.3), (110, -2.7), (250, -3.1), (700, -3.5), (2500, -4.0), (9000, -4.5), (30000, -4.9)],
    [(1, 1.8), (2, 1.7), (3, 1.6), (4.5, 1.4), (6.5, 1.1), (9, 0.7), (13, 0.3), (19, -0.2), (28, -0.7), (42, -1.2), (65, -1.7), (110, -2.1), (220, -2.5), (600, -3.0), (2000, -3.5), (7000, -3.9), (20000, -4.2), (30000, -4.3)],
    [(1, 0.9), (2, 0.8), (2.5, 0.3), (3.5, -0.3), (5, -0.9), (7, -1.3), (11, -1.6), (17, -2.0), (27, -2.4), (45, -2.8), (90, -3.1), (250, -3.5), (900, -3.9), (3500, -4.4), (12000, -4.9), (30000, -5.2)],
    [(1, 1.5), (2, 1.5), (3, 1.3), (4, 1.0), (5.5, 0.6), (8, 0.2), (11, -0.2), (16, -0.6), (24, -1.1), (38, -1.6), (60, -2.0), (100, -2.4), (200, -2.8), (500, -3.2), (1500, -3.7), (5000, -4.1), (15000, -4.5), (30000, -4.7)],
]

SUP = ("'10' + replace(replace(replace(replace(replace(replace(replace(replace(replace(replace(replace("
       "toString(round(log(datum.value)/LN10)), '-', '\u207b'), '0', '\u2070'), '1', '\u00b9'), '2', '\u00b2'),"
       " '3', '\u00b3'), '4', '\u2074'), '5', '\u2075'), '6', '\u2076'), '7', '\u2077'), '8', '\u2078'), '9', '\u2079')")

FONT = "Liberation Serif"


def build(best, worst, median, runs):
    rows = []
    for name, group in [("All 100 Runs", runs), ("Worst Run", [worst]), ("Median Run", [median]), ("Best Run", [best])]:
        for r, run in enumerate(group):
            for k, (it, lv) in enumerate(run):
                rows.append({"series": name, "run": f"{name}-{r}", "k": k, "it": it, "val": 10 ** lv})
    return pd.DataFrame(rows)


def panel(title, best, worst, median, runs, ylo, yhi, yticks, width, red_step=False):
    df = build(best, worst, median, runs)
    x = alt.X("it:Q", scale=alt.Scale(type="log", domain=[1, ITER_MAX], nice=False),
              axis=alt.Axis(values=X_TICKS, labelExpr=SUP, title="Iteration", labelPadding=8, titlePadding=3,
                            labelFlush=False, labelOverlap=False))
    y = alt.Y("val:Q", scale=alt.Scale(type="log", domain=[10 ** ylo, 10 ** yhi], nice=False),
              axis=alt.Axis(values=yticks, labelExpr=SUP, title="Best Score", labelPadding=3,
                            titleX=-27, titleY=106, titleAngle=-90, titleBaseline="middle", titleAlign="center",
                            labelFlush=False, labelOverlap=False))
    color = alt.Color("series:N", scale=alt.Scale(domain=SERIES, range=COLORS), legend=alt.Legend(title=None))
    sw = alt.StrokeWidth("series:N", scale=alt.Scale(type="ordinal", domain=SERIES, range=WIDTHS),
                         legend=alt.Legend(title=None))
    op = alt.Opacity("series:N", scale=alt.Scale(type="ordinal", domain=SERIES, range=OPACITY),
                     legend=alt.Legend(title=None))
    layers = []
    for s in ["All 100 Runs", "Worst Run", "Median Run", "Best Run"]:
        interp = "step-after" if (red_step and s == "All 100 Runs") else "linear"
        layers.append(
            alt.Chart(df).transform_filter(alt.datum.series == s)
            .mark_line(clip=True, interpolate=interp, strokeJoin="miter")
            .encode(x=x, y=y, color=color, strokeWidth=sw, opacity=op, detail="run:N", order="k:Q")
        )
    return alt.layer(*layers).properties(width=width, height=212, title=title)


p1 = panel("Convergence History of F203", F203_BEST, F203_WORST, F203_MEDIAN, F203_RUNS, -3.65, 9.1, [1, 1e5], 400)
p2 = panel("Convergence History of F208", F208_BEST, F208_WORST, F208_MEDIAN, F208_RUNS, -5.1, 5.3,
           [1e-4, 1e-2, 1, 1e2, 1e4], 399)
p3 = panel("Convergence History of F213", F213_BEST, F213_WORST, F213_MEDIAN, F213_RUNS, -4.65, 5.3,
           [1e-4, 1e-2, 1, 1e2, 1e4], 400)
p4 = panel("Convergence History of F232", F232_BEST, F232_WORST, F232_MEDIAN, F232_RUNS, -6.65, 2.0,
           [1e-6, 1e-4, 1e-2, 1, 1e2], 399, red_step=True)

chart = (
    alt.concat(p1, p2, p3, p4, columns=2, spacing={"row": 1, "column": 33})
    .resolve_scale(x="independent", y="independent", color="independent", strokeWidth="independent",
                   opacity="independent")
    .properties(padding={"top": -4, "left": 0, "right": 0, "bottom": 0})
    .configure_view(stroke="#9a9a9a", strokeWidth=1)
    .configure_axis(labelFont=FONT, labelFontWeight="bold", labelFontSize=11, labelColor="#222222",
                    titleFont=FONT, titleFontWeight="bold", titleFontSize=12, titleColor="#222222",
                    domain=False, ticks=False, grid=False)
    .configure_title(font=FONT, fontWeight="bold", fontSize=12, color="#111111", offset=3, anchor="middle")
    .configure_legend(orient="top-right", offset=4, padding=2, fillColor="white", strokeColor="#b5b5b5",
                      labelFont=FONT, labelFontWeight="bold", labelFontSize=10, labelColor="#222222",
                      symbolType="stroke", symbolSize=144, rowPadding=0, labelOffset=2)
)

chart.save("out.html", embed_options={"renderer": "svg", "actions": False})
